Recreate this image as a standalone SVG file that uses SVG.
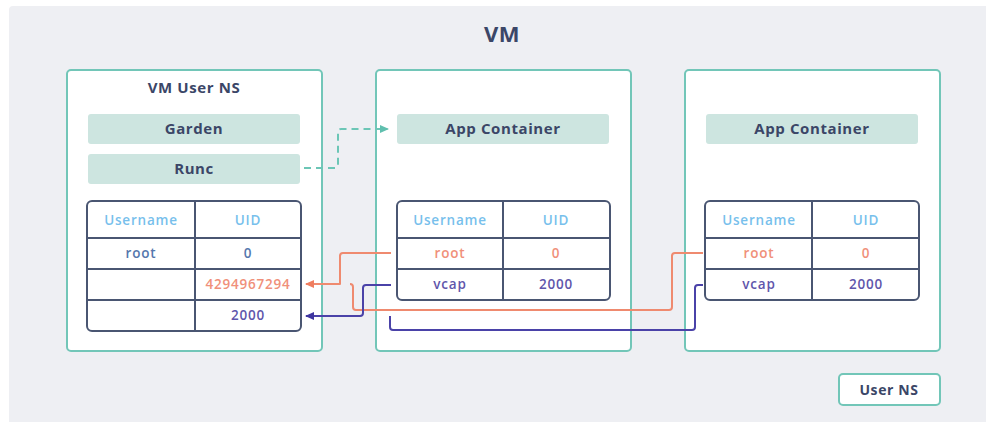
<svg xmlns="http://www.w3.org/2000/svg" width="986" height="422" viewBox="0 0 986 422">
  <style>
    .ns { fill: #ffffff; stroke: #72c6b8; stroke-width: 2; }
    .bar { fill: #cde5e0; }
    .title { font-family: "Open Sans", "Liberation Sans", sans-serif; font-weight: 700; fill: #3b4667; text-anchor: middle; letter-spacing: 0.6px; }
    .tbl { fill: #ffffff; stroke: #4a5672; stroke-width: 2; }
    .grid { stroke: #4a5672; stroke-width: 2; fill: none; }
    .cell { font-family: "Open Sans", "Liberation Sans", sans-serif; font-size: 13.5px; text-anchor: middle; font-weight: 600; letter-spacing: 0.8px; }
    .hdr { fill: #78bfec; }
    .dark { fill: #5577ad; }
    .org { fill: #f0907a; }
    .pur { fill: #5f56ab; }
    .link { fill: none; stroke-width: 2; stroke-linejoin: round; }
  </style>
  <defs>
    <marker id="ahTeal" markerWidth="10" markerHeight="10" refX="8" refY="5" orient="auto" markerUnits="userSpaceOnUse">
      <path d="M0,1 L9,5 L0,9 Z" fill="#5fbfae"/>
    </marker>
    <marker id="ahOrg" markerWidth="10" markerHeight="10" refX="8" refY="5" orient="auto" markerUnits="userSpaceOnUse">
      <path d="M0,1 L9,5 L0,9 Z" fill="#ef7d5f"/>
    </marker>
    <marker id="ahPur" markerWidth="10" markerHeight="10" refX="8" refY="5" orient="auto" markerUnits="userSpaceOnUse">
      <path d="M0,1 L9,5 L0,9 Z" fill="#3f35a0"/>
    </marker>
  </defs>

  <rect x="0" y="0" width="986" height="422" fill="#ffffff"/>
  <rect id="vm" x="9" y="6" width="990" height="430" rx="4" fill="#eeeff3"/>
  <text class="title" x="502" y="42" font-size="22">VM</text>

  <!-- host user namespace -->
  <g id="vm-user-ns">
    <rect class="ns" x="67" y="70" width="255" height="281" rx="4"/>
    <text class="title" x="194" y="93" font-size="15">VM User NS</text>
  </g>
  <g id="garden">
    <rect class="bar" x="88" y="114" width="212" height="30" rx="3"/>
    <text class="title" x="194" y="134" font-size="15">Garden</text>
  </g>
  <g id="runc">
    <rect class="bar" x="88" y="154" width="212" height="30" rx="3"/>
    <text class="title" x="194" y="174" font-size="15">Runc</text>
  </g>
  <g id="host-table">
    <rect class="tbl" x="87" y="201" width="214" height="130" rx="5"/>
    <path class="grid" d="M195,201 V331 M87,238 H301 M87,269 H301 M87,300 H301"/>
    <text class="cell hdr" x="141" y="225">Username</text>
    <text class="cell hdr" x="248" y="225">UID</text>
    <text class="cell dark" x="141" y="258">root</text>
    <text class="cell dark" x="248" y="258">0</text>
    <text class="cell org" x="248" y="289">4294967294</text>
    <text class="cell pur" x="248" y="320">2000</text>
  </g>

  <!-- first container namespace -->
  <g id="container-1">
    <rect class="ns" x="376" y="70" width="255" height="281" rx="4"/>
    <rect class="bar" x="397" y="114" width="212" height="30" rx="3"/>
    <text class="title" x="503" y="134" font-size="15">App Container</text>
  </g>
  <g id="table-1">
    <rect class="tbl" x="397" y="201" width="213" height="99" rx="5"/>
    <path class="grid" d="M503,201 V300 M397,238 H610 M397,269 H610"/>
    <text class="cell hdr" x="450" y="225">Username</text>
    <text class="cell hdr" x="556" y="225">UID</text>
    <text class="cell org" x="450" y="258">root</text>
    <text class="cell org" x="556" y="258">0</text>
    <text class="cell pur" x="450" y="289">vcap</text>
    <text class="cell pur" x="556" y="289">2000</text>
  </g>

  <!-- second container namespace -->
  <g id="container-2">
    <rect class="ns" x="685" y="70" width="255" height="281" rx="4"/>
    <rect class="bar" x="706" y="114" width="212" height="30" rx="3"/>
    <text class="title" x="812" y="134" font-size="15">App Container</text>
  </g>
  <g id="table-2">
    <rect class="tbl" x="705" y="201" width="214" height="99" rx="5"/>
    <path class="grid" d="M812,201 V300 M705,238 H919 M705,269 H919"/>
    <text class="cell hdr" x="759" y="225">Username</text>
    <text class="cell hdr" x="866" y="225">UID</text>
    <text class="cell org" x="759" y="258">root</text>
    <text class="cell org" x="866" y="258">0</text>
    <text class="cell pur" x="759" y="289">vcap</text>
    <text class="cell pur" x="866" y="289">2000</text>
  </g>

  <!-- legend -->
  <g id="legend-user-ns">
    <rect class="ns" x="839" y="374" width="101" height="31" rx="4"/>
    <text class="title" x="889" y="395" font-size="14">User NS</text>
  </g>

  <g id="connectors">
    <path class="link" stroke="#6cc6b6" stroke-dasharray="7,5" d="M304,168 H335 Q338,168 338,165 V132 Q338,129 341,129 H388" marker-end="url(#ahTeal)"/>
    <path class="link" stroke="#ef8a6f" d="M703,253 H675 Q672,253 672,256 V307 Q672,310 669,310 H356 Q353,310 353,307 V287 Q353,284 350,284"/>
    <path class="link" stroke="#ef8a6f" d="M391,253 H343 Q340,253 340,256 V284 H306" marker-end="url(#ahOrg)"/>
    <path class="link" stroke="#4a42a8" d="M703,285 H698 Q695,285 695,288 V327 Q695,330 692,330 H393 Q390,330 390,327 V316"/>
    <path class="link" stroke="#4a42a8" d="M391,285 H366 Q363,285 363,288 V313 Q363,316 360,316 H306" marker-end="url(#ahPur)"/>
  </g>
</svg>
